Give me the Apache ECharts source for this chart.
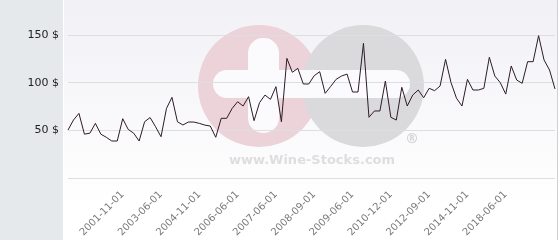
<!DOCTYPE html>
<html>
<head>
<meta charset="utf-8">
<script src="https://cdn.jsdelivr.net/npm/echarts@6/dist/echarts.min.js"></script>
<style>html,body{margin:0;padding:0;background:#fff}#c{width:560px;height:240px}</style>
</head>
<body>
<div id="c"></div>
<script>
// Price series (USD), one value per auction date
const prices = [
  50.3, 60.8, 67.8, 46, 47, 57.3, 46, 42.7, 38.8, 38.8,
  62.2, 51, 47, 38.8, 59, 63.4, 53.8, 43.3, 73, 84.6,
  59, 55.6, 58.7, 58.7, 57.3, 55.5, 54.5, 42.7, 62.6, 62.6,
  73, 80, 75.5, 85.3, 60.1, 79, 87, 82.5, 95.8, 59,
  125.5, 110.9, 115, 98.6, 98.6, 107.3, 111.5, 88.8, 96, 103.5,
  107, 109, 90.2, 90.2, 141.3, 63.7, 70.3, 70.3, 101.7, 63.7,
  60.8, 95.1, 75.5, 87, 92.3, 84.2, 94.1, 91.6, 96.5, 124.5,
  100, 83.6, 75.5, 103.5, 92.3, 92.3, 94.1, 126.6, 107, 100,
  88, 117.5, 102.8, 99.3, 122, 122, 149.3, 123.8, 113.3, 93.4
];
// Dates shown on the x axis and the data index where each appears
const tickLabels = ['2001-11-01','2003-06-01','2004-11-01','2006-06-01','2007-06-01','2008-09-01','2009-06-01','2010-12-01','2012-09-01','2014-11-01','2018-06-01'];
const tickIndex = [10,17,24,31,38,45,52,59,66,73,80];
const yTicks = [50, 100, 150];

const categories = prices.map((_, i) => {
  const k = tickIndex.indexOf(i);
  return k >= 0 ? tickLabels[k] : ('p' + i);
});

const chart = echarts.init(document.getElementById('c'), null, {renderer: 'canvas'});
chart.setOption({
  animation: false,
  backgroundColor: '#ffffff',
  graphic: {
    elements: [
      {type: 'rect', z: -100, shape: {x: 0, y: 0, width: 63, height: 240}, style: {fill: '#e5e9ec'}},
      {type: 'rect', z: -100, shape: {x: 64, y: 0, width: 493, height: 240},
        style: {fill: new echarts.graphic.LinearGradient(0, 0, 0, 1, [{offset: 0, color: '#f1f1f6'}, {offset: 0.85, color: '#ffffff'}, {offset: 1, color: '#ffffff'}])}},
      {type: 'line', z: -100, shape: {x1: 557.5, y1: 0, x2: 557.5, y2: 240}, style: {stroke: '#d0d0d4', lineWidth: 1}},
      {type: 'circle', z: -50, shape: {cx: 259, cy: 86, r: 61}, style: {fill: '#ecd2d9'}},
      {type: 'circle', z: -49, shape: {cx: 363, cy: 86, r: 61}, style: {fill: '#dadadd'}},
      {type: 'rect', z: -48, shape: {x: 213, y: 70, width: 197, height: 28, r: 14}, style: {fill: '#fbfbfd'}},
      {type: 'rect', z: -48, shape: {x: 248, y: 38, width: 31, height: 95, r: 15}, style: {fill: '#fbfbfd'}},
      {type: 'text', z: -47, style: {x: 312, y: 161, text: 'www.Wine-Stocks.com', align: 'center', verticalAlign: 'middle', font: 'bold 13px "DejaVu Sans", sans-serif', fill: '#dedee2'}},
      {type: 'text', z: -47, style: {x: 412, y: 139, text: '®', align: 'center', verticalAlign: 'middle', font: 'bold 14px "DejaVu Sans", sans-serif', fill: '#d6d6da'}}
    ]
  },
  grid: {left: 68, right: 5, top: 0, bottom: 62, containLabel: false},
  xAxis: {
    type: 'category',
    data: categories,
    boundaryGap: false,
    axisLine: {show: false},
    axisTick: {show: false},
    splitLine: {show: false},
    axisLabel: {
      rotate: 45,
      margin: 15,
      color: '#7a7a7a',
      fontFamily: 'DejaVu Sans',
      fontSize: 10,
      interval: (idx) => tickIndex.includes(idx),
      formatter: (v, idx) => { const k = tickIndex.indexOf(idx); return k >= 0 ? tickLabels[k] : ''; }
    }
  },
  yAxis: {
    type: 'value',
    min: 0,
    max: 186.7,
    interval: 50,
    axisLine: {show: false},
    axisTick: {show: false},
    splitLine: {show: true, showMaxLine: false, lineStyle: {color: '#dedee2', width: 1}},
    axisLabel: {
      margin: 9,
      color: '#222',
      fontFamily: 'DejaVu Sans',
      fontSize: 11,
      formatter: (v) => yTicks.includes(v) ? v + ' $' : ''
    }
  },
  series: [{
    type: 'line',
    data: prices,
    symbol: 'none',
    lineStyle: {color: '#2e1b26', width: 1},
    z: 5
  }]
});
</script>
</body>
</html>
